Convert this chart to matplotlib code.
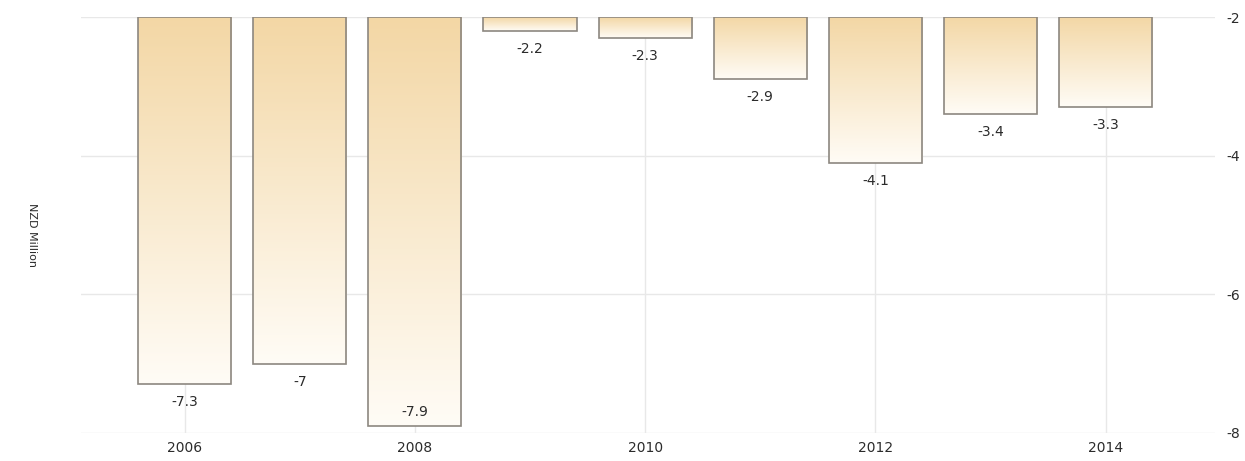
import matplotlib
matplotlib.use("Agg")
import matplotlib.pyplot as plt
import numpy as np
from matplotlib.colors import LinearSegmentedColormap
from matplotlib.patches import Rectangle

# Annual values, NZD million
years = [2006, 2007, 2008, 2009, 2010, 2011, 2012, 2013, 2014]
values = [-7.3, -7.0, -7.9, -2.2, -2.3, -2.9, -4.1, -3.4, -3.3]
labels = ["-7.3", "-7", "-7.9", "-2.2", "-2.3", "-2.9", "-4.1", "-3.4", "-3.3"]

BASE = -2          # bars hang from the top of the axis
BAR_W = 0.81
TOP_C = "#f3d7a5"
BOT_C = "#fffcf6"
EDGE = "#8c8780"
GRID = "#e8e8e8"
TEXT = "#2b2b2b"

plt.rcParams["font.family"] = "DejaVu Sans"
plt.rcParams["axes.unicode_minus"] = False

fig = plt.figure(figsize=(12.45, 4.61), dpi=100)
ax = fig.add_axes([0.065, 0.061, 0.911, 0.902])

cmap = LinearSegmentedColormap.from_list("fade", [TOP_C, BOT_C])
grad = np.linspace(0, 1, 256).reshape(-1, 1)

for x, v, lab in zip(years, values, labels):
    x0, x1 = x - BAR_W / 2, x + BAR_W / 2
    ax.imshow(grad, cmap=cmap, aspect="auto", extent=(x0, x1, v, BASE),
              origin="upper", zorder=2, interpolation="bicubic")
    ax.add_patch(Rectangle((x0, BASE), BAR_W, v - BASE, fill=False,
                           edgecolor=EDGE, linewidth=1.2, zorder=3))
    # label under the bar; tuck it inside when it would fall off the axis
    off = 10 if v - 0.45 < -8 else -13
    ax.annotate(lab, (x, v), textcoords="offset points",
                xytext=(0, off), ha="center", va="center",
                fontsize=10, color=TEXT, zorder=4)

ax.set_xlim(2005.1, 2014.95)
ax.set_ylim(-8, -2)
ax.set_xticks([2006, 2008, 2010, 2012, 2014])
ax.set_yticks([-8, -6, -4, -2])
ax.yaxis.tick_right()
ax.tick_params(length=0, labelsize=10, colors=TEXT)
ax.tick_params(axis="x", pad=6)
ax.tick_params(axis="y", pad=8)

ax.grid(True, color=GRID, linewidth=1, zorder=0)
ax.set_axisbelow(True)
for s in ax.spines.values():
    s.set_visible(False)

fig.text(0.026, 0.49, "NZD Million", rotation=-90, ha="center", va="center",
         fontsize=8, color=TEXT)

fig.savefig("out.png", dpi=100, facecolor="white")
